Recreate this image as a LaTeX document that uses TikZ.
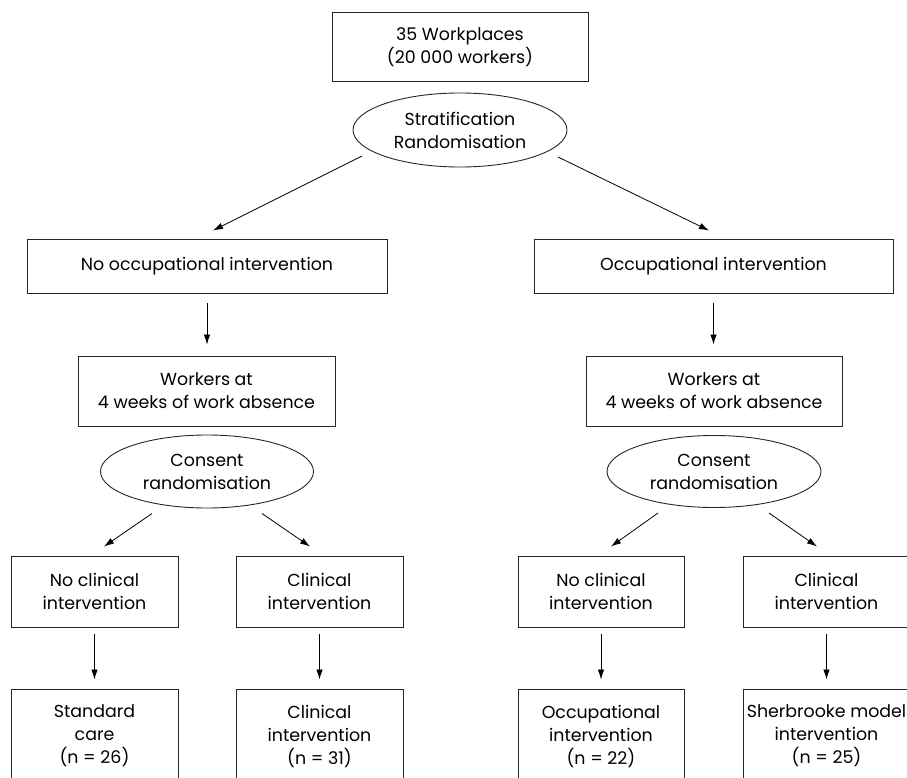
\documentclass[tikz,border=0pt]{standalone}
\usepackage{fontspec}
\setmainfont{Poppins}
\usetikzlibrary{shapes.geometric,arrows.meta,calc}
\begin{document}
\begin{tikzpicture}[x=1pt,y=-1pt,
  every node/.style={font=\fontsize{17.4}{23}\selectfont, align=center, inner sep=0pt, text=black},
  bx/.style={draw=black!85, line width=1pt, rectangle},
  el/.style={draw=black!85, line width=0.9pt, ellipse},
  arr/.style={draw=black, line width=0.8pt, -{Latex[length=10pt,width=6.5pt]}}
]
\useasboundingbox (0,0) rectangle (907,778);
\clip (0,0) rectangle (907,778);
\node[bx, minimum width=256, minimum height=69] (top) at (460,47.5) {35 Workplaces\\(20 000 workers)};
\node[el, minimum width=214, minimum height=74] (strat) at (460,130) {Stratification\\Randomisation};
\node[bx, minimum width=360, minimum height=54] (noocc) at (207,266) {No occupational intervention};
\node[bx, minimum width=359, minimum height=54] (occ) at (713.5,266) {Occupational intervention};
\node[bx, minimum width=257, minimum height=70] (wL) at (206.5,391) {Workers at\\4 weeks of work absence};
\node[bx, minimum width=256, minimum height=70] (wR) at (714,391) {Workers at\\4 weeks of work absence};
\node[el, minimum width=213, minimum height=73] (cL) at (207,471.5) {Consent\\randomisation};
\node[el, minimum width=214, minimum height=72] (cR) at (714,471.5) {Consent\\randomisation};
\node[bx, minimum width=167, minimum height=71] (LL) at (94.5,591.5) {No clinical\\intervention};
\node[bx, minimum width=167, minimum height=71] (LR) at (319.5,591.5) {Clinical\\intervention};
\node[bx, minimum width=166, minimum height=71] (RL) at (601,591.5) {No clinical\\intervention};
\node[bx, minimum width=167, minimum height=71] (RR) at (826.5,591.5) {Clinical\\intervention};
\node[bx, minimum width=167, minimum height=94] (bLL) at (94.5,736) {Standard\\care\\(n = 26)};
\node[bx, minimum width=167, minimum height=94] (bLR) at (319.5,736) {Clinical\\intervention\\(n = 31)};
\node[bx, minimum width=166, minimum height=94] (bRL) at (601,736) {Occupational\\intervention\\(n = 22)};
\node[bx, minimum width=167, minimum height=94] (bRR) at (826.5,736) {Sherbrooke model\\intervention\\(n = 25)};
% connectors
\draw[arr] ($(strat.center)+(-98,26)$) -- ($(noocc.north)+(6,-8)$);
\draw[arr] ($(strat.center)+(98,27)$) -- ($(occ.north)+(-4.5,-8)$);
\draw[arr, shorten <=9pt, shorten >=11pt] (noocc.south) -- (noocc.south |- wL.north);
\draw[arr, shorten <=9pt, shorten >=11pt] (occ.south) -- (occ.south |- wR.north);
\draw[arr] ($(cL.center)+(-55,42)$) -- ($(LL.north)+(9.5,-9)$);
\draw[arr] ($(cL.center)+(55,42)$) -- ($(LR.north)+(-9.5,-9)$);
\draw[arr] ($(cR.center)+(-56,41.5)$) -- ($(RL.north)+(10,-9)$);
\draw[arr] ($(cR.center)+(55,41.5)$) -- ($(RR.north)+(-9.5,-9)$);
\draw[arr, shorten <=6pt, shorten >=9pt] (LL.south) -- (bLL.north);
\draw[arr, shorten <=6pt, shorten >=9pt] (LR.south) -- (bLR.north);
\draw[arr, shorten <=6pt, shorten >=9pt] (RL.south) -- (bRL.north);
\draw[arr, shorten <=6pt, shorten >=9pt] (RR.south) -- (bRR.north);
\end{tikzpicture}
\end{document}
